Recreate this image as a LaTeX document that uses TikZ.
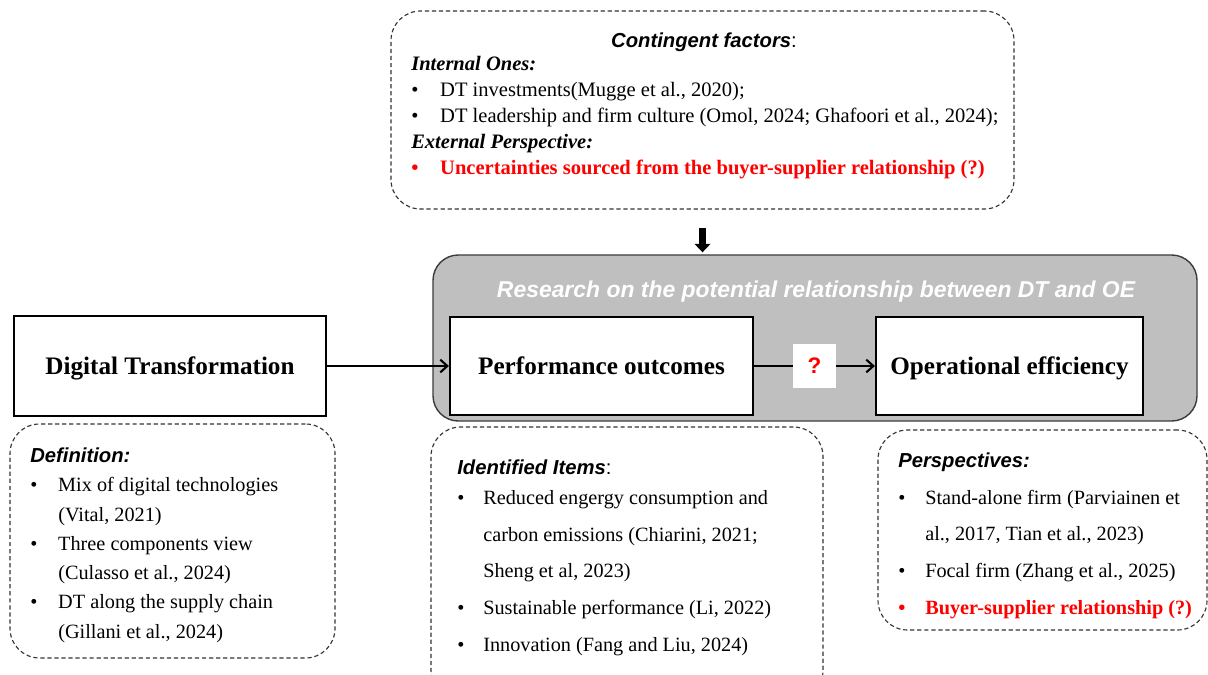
\documentclass[tikz,border=0pt]{standalone}
\usepackage{fontspec}
\setmainfont{Liberation Serif}
\setsansfont{Liberation Sans}
\usetikzlibrary{arrows.meta,fit}
\definecolor{boxgray}{HTML}{BFBFBF}
\definecolor{edgegray}{HTML}{3C3C3C}
\newcommand{\bitem}[2][20pt]{\makebox[#1][l]{\textbullet}#2}
\newcommand{\bcont}[2][20pt]{\hspace*{#1}#2}
\newcommand{\headsf}[1]{{\sffamily\bfseries\itshape #1}}

\begin{document}
\begin{tikzpicture}[x=0.025cm,y=-0.025cm,
  dashbox/.style={draw=black!80,dash pattern=on 3pt off 2pt,line width=0.8pt,rounded corners=21pt,inner sep=0pt},
  mainbox/.style={draw,line width=1.5pt,fill=white,minimum height=2.45cm,text depth=0pt,font=\fontsize{17.9}{20}\selectfont\bfseries},
  listtext/.style={anchor=base west,inner sep=0pt,align=left},
  link/.style={line width=1.5pt,-{Straight Barb[length=5pt,width=9pt]}}]
\useasboundingbox (0,0) rectangle (1208,675);

% contingent factors on top (list node sits on its last baseline)
\node[dashbox,fit={(391,11) (1014,209)}] (cfbox) {};
\node[anchor=base,inner sep=0pt,font=\fontsize{14.4}{17}\selectfont] (cfhead) at (704,48) {\headsf{Contingent factors}{\sffamily :}};
\node[listtext,font=\fontsize{14.6}{18.6}\selectfont] (cflist) at (411,175) {%
  \textbf{\textit{Internal Ones:}}\\
  \bitem[20.6pt]{DT investments(Mugge et al., 2020);}\\
  \bitem[20.6pt]{DT leadership and firm culture (Omol, 2024; Ghafoori et al., 2024);}\\
  \textbf{\textit{External Perspective:}}\\
  {\color{red}\bfseries\bitem[20.6pt]{Uncertainties sourced from the buyer-supplier relationship (?)}}};

% research frame
\node[fill=boxgray,draw=edgegray,line width=1pt,rounded corners=18pt,inner sep=0pt,fit={(433,255) (1197,421)}] (research) {};
\node[anchor=base,inner sep=0pt,text=white,font=\sffamily\bfseries\itshape\fontsize{16.3}{18}\selectfont] (title) at (816,297) {Research on the potential relationship between DT and OE};
\draw[line width=4.5pt,-{Triangle[length=6pt,width=11pt]},shorten <=12.8pt,shorten >=1.4pt] (cfbox.south) -- (cfbox.south |- research.north);

% main chain
\node[mainbox,minimum width=7.8cm,minimum height=2.5cm] (dt) at (170,366) {Digital Transformation};
\node[mainbox,minimum width=7.575cm] (po) at (601.5,366) {Performance outcomes};
\node[mainbox,minimum width=6.675cm] (oe) at (1009.5,366) {Operational efficiency};
\node[fill=white,minimum width=1.075cm,minimum height=1.1cm,inner sep=0pt,text=red,font=\sffamily\bfseries\fontsize{16}{18}\selectfont] (q) at (814.5,366) {?};
\draw[link] (dt) -- (po);
\draw[line width=1.5pt] (po) -- (q);
\draw[link] (q) -- (oe);

% definition
\node[dashbox,fit={(10,424) (335,658)}] (defbox) {};
\node[listtext,font=\fontsize{14.4}{20.8}\selectfont] (deflist) at (30,638) {%
  \headsf{Definition:}\\
  \bitem[19.9pt]{Mix of digital technologies}\\
  \bcont[19.9pt]{(Vital, 2021)}\\
  \bitem[19.9pt]{Three components view}\\
  \bcont[19.9pt]{(Culasso et al., 2024)}\\
  \bitem[19.9pt]{DT along the supply chain}\\
  \bcont[19.9pt]{(Gillani et al., 2024)}};

% identified items
\node[dashbox,fit={(431,427) (823,700)}] (itembox) {};
\node[listtext,font=\fontsize{14.4}{26}\selectfont] (itemlist) at (457,651) {%
  \headsf{Identified Items}{\sffamily :}\\[-4.6pt]
  \bitem[18.5pt]{Reduced engergy consumption and}\\
  \bcont[18.5pt]{carbon emissions (Chiarini, 2021;}\\
  \bcont[18.5pt]{Sheng et al, 2023)}\\
  \bitem[18.5pt]{Sustainable performance (Li, 2022)}\\
  \bitem[18.5pt]{Innovation (Fang and Liu, 2024)}};

% perspectives
\node[dashbox,fit={(878,430) (1207,630)}] (perbox) {};
\node[listtext,font=\fontsize{14.4}{26}\selectfont] (perlist) at (898,614) {%
  \headsf{Perspectives:}\\
  \bitem[19.2pt]{Stand-alone firm (Parviainen et}\\
  \bcont[19.2pt]{al., 2017, Tian et al., 2023)}\\
  \bitem[19.2pt]{Focal firm (Zhang et al., 2025)}\\
  {\color{red}\bfseries\bitem[19.2pt]{Buyer-supplier relationship (?)}}};
\end{tikzpicture}
\end{document}
